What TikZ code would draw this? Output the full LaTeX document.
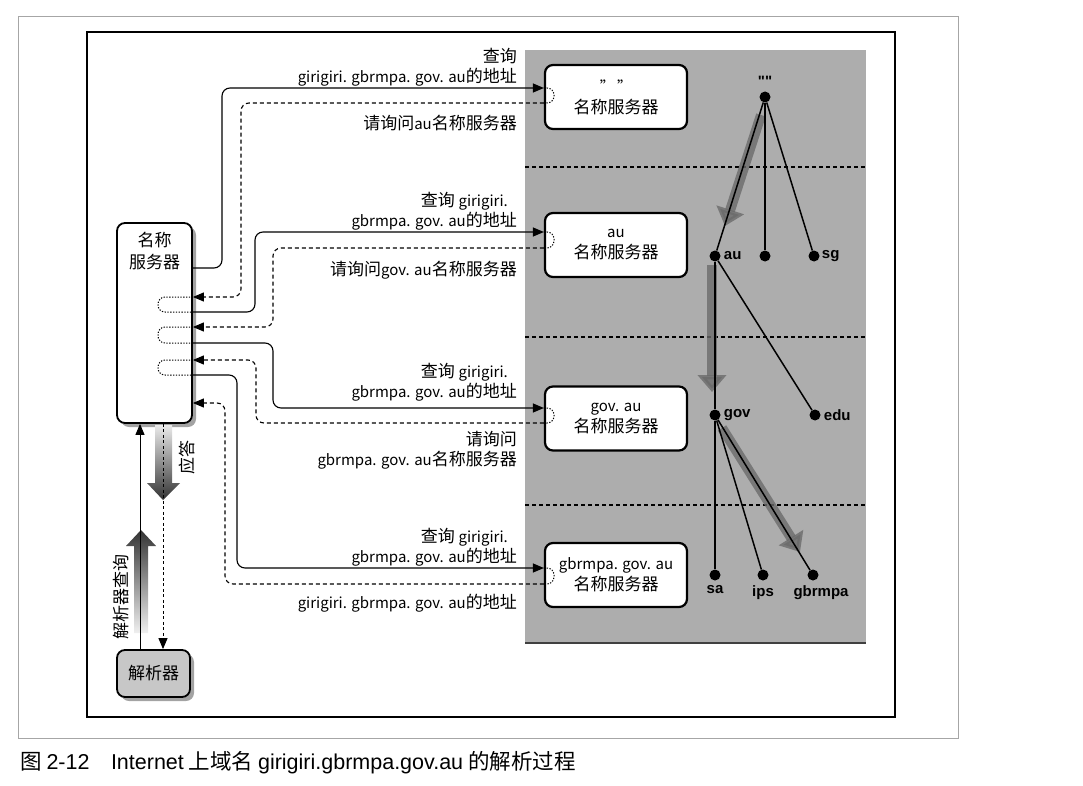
\documentclass[tikz,border=0pt]{standalone}
\usepackage{fontspec}
\setmainfont{Noto Sans CJK SC}
\newfontfamily\capfont{Liberation Sans}
\newfontfamily\lblfont{Liberation Sans}
\usetikzlibrary{arrows.meta,shadows}
\newcommand\lt[1]{{\fontsize{15}{17}\selectfont #1}}
\begin{document}
\begin{tikzpicture}[x=1pt,y=-1pt,
  srv/.style={draw,line width=2.2pt,rounded corners=8pt,fill=white,minimum width=142pt,minimum height=64pt,align=center,font=\fontsize{17}{21}\selectfont,inner sep=0pt},
  lab/.style={anchor=east,align=right,font=\fontsize{17}{20}\selectfont,inner sep=0pt},
  tip/.style={-{Triangle[length=11pt,width=9pt]}},
  qline/.style={line width=1.1pt,rounded corners=8pt,tip},
  rline/.style={line width=1.1pt,dash pattern=on 4pt off 3pt,rounded corners=8pt,tip},
  loopline/.style={line width=1pt,dash pattern=on 1.3pt off 1.5pt,rounded corners=7pt},
  sepline/.style={line width=1.1pt,dash pattern=on 4pt off 3pt},
  tdot/.style={circle,fill=black,inner sep=0pt,minimum size=11pt},
  tl/.style={font=\lblfont\bfseries\fontsize{15}{17}\selectfont,inner sep=1pt},
  tedge/.style={line width=1.5pt},
  bigarrow/.style={line width=10pt,draw=black!58,opacity=0.8,-{Triangle[length=17pt,width=28pt]}}
]
\useasboundingbox (0,0) rectangle (1083,786);
% frames
\draw[black!35,line width=0.6pt] (18,16) rectangle (958,738);
\draw[line width=1.2pt] (87,32) rectangle (895,717);
% gray area
\fill[black!32] (525,50) rectangle (866,643);
\draw[line width=1.5pt,black!75] (525,643) -- (866,643);
\draw[sepline] (525,167) -- (866,167);
\draw[sepline] (525,337) -- (866,337);
\draw[sepline] (525,505) -- (866,505);
% tree
\node[tdot,label={[tl,label distance=4pt]above:""}] (root) at (765,97) {};
\node[tdot,label={[tl,label distance=2pt]right:au}] (au) at (715,256) {};
\node[tdot] (mid) at (765,256) {};
\node[tdot,label={[tl,label distance=1pt]right:sg}] (sg) at (814,256) {};
\node[tdot,label={[tl,label distance=2pt]right:gov}] (gov) at (715,415) {};
\node[tdot,label={[tl,label distance=2pt]right:edu}] (edu) at (815,415) {};
\node[tdot,label={[tl,label distance=4pt]below:sa}] (sa) at (715,575) {};
\node[tdot,label={[tl,label distance=4pt]below:ips}] (ips) at (763,575) {};
\node[tdot,label={[tl,label distance=4pt,xshift=8pt]below:gbrmpa}] (gbr) at (813,575) {};
\draw[bigarrow] (761,115) -- (725,226);
\draw[bigarrow] (712,265) -- (712,392);
\draw[bigarrow] (722,428) -- (800,552);
\draw[tedge] (root) -- (au);
\draw[tedge] (root) -- (mid);
\draw[tedge] (root) -- (sg);
\draw[tedge] (au) -- (gov);
\draw[tedge] (au) -- (edu);
\draw[tedge] (gov) -- (sa);
\draw[tedge] (gov) -- (ips);
\draw[tedge] (gov) -- (gbr);
% servers
\node[srv] (s1) at (616,97) {\lt{"\,"}\\名称服务器};
\node[srv] (s2) at (616,245) {\lt{au}\\名称服务器};
\node[srv] (s3) at (616,418.5) {\lt{gov. au}\\名称服务器};
\node[srv] (s4) at (616,575) {\lt{gbrmpa. gov. au}\\名称服务器};
% local name server and resolver
\node[draw,line width=1.8pt,rounded corners=8pt,fill=white,minimum width=75pt,minimum height=200pt,
  drop shadow={shadow xshift=4pt,shadow yshift=-4pt,fill=black!60,opacity=.6},
  label={[anchor=north,yshift=-7pt,align=center,font=\fontsize{17}{22}\selectfont]north:名称\\服务器}] (ns) at (154.5,323) {};
\node[draw,line width=1.8pt,rounded corners=8pt,fill=black!22,minimum width=73pt,minimum height=47pt,
  drop shadow={shadow xshift=4pt,shadow yshift=-4pt,fill=black!60,opacity=.6},
  font=\fontsize{17}{20}\selectfont] (res) at (153.5,673.5) {解析器};
% shaded arrows
\shade[top color=black!80,bottom color=black!6] (134,633) -- (134,546) -- (126,546) -- (141,530) -- (156,546) -- (148,546) -- (148,633) -- cycle;
\shade[top color=black!8,bottom color=black!80] (155,425) -- (155,483) -- (147,483) -- (163,500) -- (180,483) -- (172,483) -- (172,425) -- cycle;
\draw[line width=1pt,tip] (res.north -| 140,0) -- (ns.south -| 140,0);
\draw[line width=1pt,dash pattern=on 3pt off 2.5pt,tip] (ns.south -| 163,0) -- (res.north -| 163,0);
\node[rotate=90,font=\fontsize{17}{20}\selectfont,inner sep=0pt] (rq) at (121,597) {解析器查询};
\node[rotate=90,font=\fontsize{17}{20}\selectfont,inner sep=0pt] (ans) at (187,457) {应答};
% connectors
\draw[qline] (ns.east |- 0,268) -- (222,268) -- (222,88) -- (s1.west |- 0,88);
\draw[loopline] (s1.west |- 0,88) -- (554,88) -- (554,103) -- (s1.west |- 0,103);
\draw[rline] (s1.west |- 0,103) -- (241,103) -- (241,297) -- (ns.east |- 0,297);
\draw[loopline] (ns.east |- 0,297) -- (158,297) -- (158,312) -- (ns.east |- 0,312);
\draw[qline] (ns.east |- 0,312) -- (255,312) -- (255,232) -- (s2.west |- 0,232);
\draw[loopline] (s2.west |- 0,232) -- (554,232) -- (554,248) -- (s2.west |- 0,248);
\draw[rline] (s2.west |- 0,248) -- (273,248) -- (273,327) -- (ns.east |- 0,327);
\draw[loopline] (ns.east |- 0,327) -- (158,327) -- (158,343) -- (ns.east |- 0,343);
\draw[qline] (ns.east |- 0,343) -- (273,343) -- (273,408) -- (s3.west |- 0,408);
\draw[loopline] (s3.west |- 0,408) -- (554,408) -- (554,423) -- (s3.west |- 0,423);
\draw[rline] (s3.west |- 0,423) -- (256,423) -- (256,360) -- (ns.east |- 0,360);
\draw[loopline] (ns.east |- 0,360) -- (158,360) -- (158,375) -- (ns.east |- 0,375);
\draw[qline] (ns.east |- 0,375) -- (237,375) -- (237,568) -- (s4.west |- 0,568);
\draw[loopline] (s4.west |- 0,568) -- (554,568) -- (554,584) -- (s4.west |- 0,584);
\draw[rline] (s4.west |- 0,584) -- (225,584) -- (225,403) -- (ns.east |- 0,403);
% labels
\node[lab] (l1) at (517,67) {查询\\\lt{girigiri. gbrmpa. gov. au}的地址};
\node[lab] (l2) at (517,123) {请询问\lt{au}名称服务器};
\node[lab] (l3) at (517,211) {查询 \lt{girigiri.}\hspace*{9pt}\\\lt{gbrmpa. gov. au}的地址};
\node[lab] (l4) at (517,270) {请询问\lt{gov. au}名称服务器};
\node[lab] (l5) at (517,382) {查询 \lt{girigiri.}\hspace*{9pt}\\\lt{gbrmpa. gov. au}的地址};
\node[lab] (l6) at (517,450) {请询问\\\lt{gbrmpa. gov. au}名称服务器};
\node[lab] (l7) at (517,547) {查询 \lt{girigiri.}\hspace*{9pt}\\\lt{gbrmpa. gov. au}的地址};
\node[lab] (l8) at (517,603) {\lt{girigiri. gbrmpa. gov. au}的地址};
% caption
\node[anchor=west,font=\fontsize{21.5}{24}\selectfont,inner sep=0pt] (cap) at (20,763) {图 {\capfont 2-12}\quad{\capfont Internet} 上域名 {\capfont girigiri.gbrmpa.gov.au} 的解析过程};
\end{tikzpicture}
\end{document}
